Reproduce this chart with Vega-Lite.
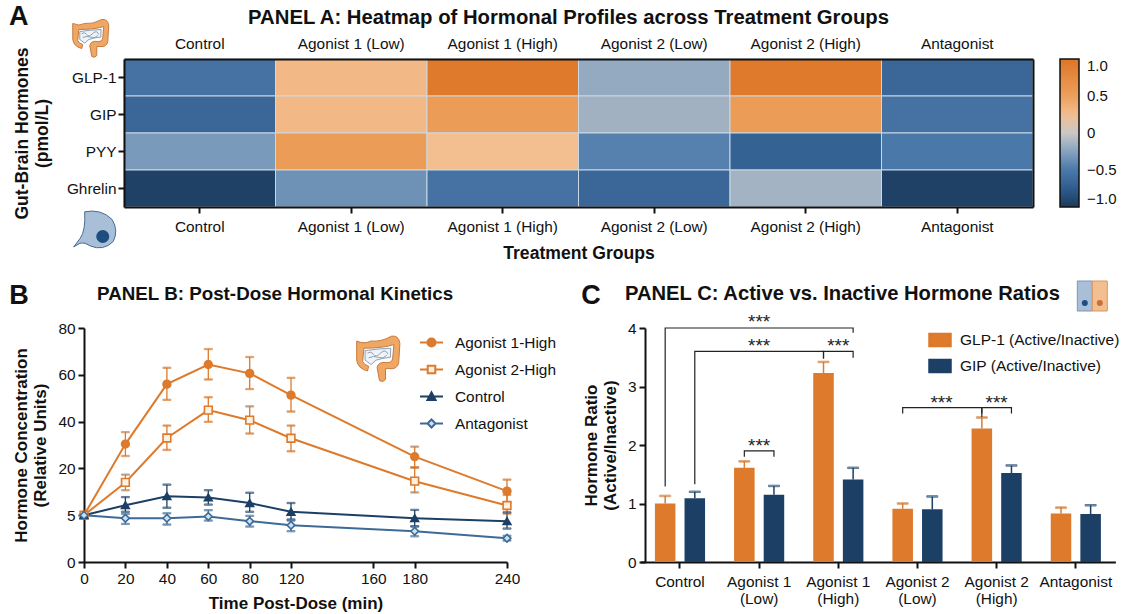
{
  "$schema": "https://vega.github.io/schema/vega-lite/v6.json",
  "background": "white",
  "padding": {"left": 9, "top": 2, "right": 0, "bottom": 0},
  "spacing": 17,
  "resolve": {"scale": {"color": "independent", "fill": "independent", "stroke": "independent", "shape": "independent"}, "legend": {"color": "independent", "fill": "independent", "stroke": "independent", "shape": "independent"}},
  "config": {
    "font": "Liberation Sans",
    "view": {"stroke": null},
    "axis": {"labelFont": "Liberation Sans", "labelFontSize": 15.4, "labelColor": "#111", "titleFont": "Liberation Sans", "titleFontSize": 17, "titleFontWeight": "bold", "titleColor": "#111", "grid": false, "domainColor": "#111", "domainWidth": 2, "tickColor": "#111", "tickWidth": 2, "tickSize": 6},
    "legend": {"labelFont": "Liberation Sans", "labelFontSize": 15.4, "labelColor": "#111", "symbolOpacity": 1},
    "title": {"font": "Liberation Sans", "fontWeight": "bold", "color": "#111"}
  },
  "datasets": {
    "heat": [
      {"group": "Control", "hormone": "GLP-1", "value": -0.55},
      {"group": "Agonist 1 (Low)", "hormone": "GLP-1", "value": 0.3},
      {"group": "Agonist 1 (High)", "hormone": "GLP-1", "value": 0.95},
      {"group": "Agonist 2 (Low)", "hormone": "GLP-1", "value": -0.2},
      {"group": "Agonist 2 (High)", "hormone": "GLP-1", "value": 0.95},
      {"group": "Antagonist", "hormone": "GLP-1", "value": -0.65},
      {"group": "Control", "hormone": "GIP", "value": -0.65},
      {"group": "Agonist 1 (Low)", "hormone": "GIP", "value": 0.3},
      {"group": "Agonist 1 (High)", "hormone": "GIP", "value": 0.55},
      {"group": "Agonist 2 (Low)", "hormone": "GIP", "value": -0.15},
      {"group": "Agonist 2 (High)", "hormone": "GIP", "value": 0.55},
      {"group": "Antagonist", "hormone": "GIP", "value": -0.55},
      {"group": "Control", "hormone": "PYY", "value": -0.3},
      {"group": "Agonist 1 (Low)", "hormone": "PYY", "value": 0.55},
      {"group": "Agonist 1 (High)", "hormone": "PYY", "value": 0.25},
      {"group": "Agonist 2 (Low)", "hormone": "PYY", "value": -0.45},
      {"group": "Agonist 2 (High)", "hormone": "PYY", "value": -0.7},
      {"group": "Antagonist", "hormone": "PYY", "value": -0.5},
      {"group": "Control", "hormone": "Ghrelin", "value": -0.95},
      {"group": "Agonist 1 (Low)", "hormone": "Ghrelin", "value": -0.35},
      {"group": "Agonist 1 (High)", "hormone": "Ghrelin", "value": -0.55},
      {"group": "Agonist 2 (Low)", "hormone": "Ghrelin", "value": -0.65},
      {"group": "Agonist 2 (High)", "hormone": "Ghrelin", "value": -0.14},
      {"group": "Antagonist", "hormone": "Ghrelin", "value": -0.95}
    ],
    "kinetics": [
      {"time": 0, "series": "Agonist 1-High", "value": 5, "low": 5, "high": 5},
      {"time": 20, "series": "Agonist 1-High", "value": 30.4, "low": 25.3, "high": 35.5},
      {"time": 40, "series": "Agonist 1-High", "value": 56, "low": 49.3, "high": 63},
      {"time": 60, "series": "Agonist 1-High", "value": 64.4, "low": 58, "high": 71},
      {"time": 80, "series": "Agonist 1-High", "value": 60.6, "low": 53.9, "high": 67.6},
      {"time": 120, "series": "Agonist 1-High", "value": 51.3, "low": 44.3, "high": 58.7},
      {"time": 180, "series": "Agonist 1-High", "value": 25, "low": 20.4, "high": 29.3},
      {"time": 240, "series": "Agonist 1-High", "value": 12.7, "low": 9, "high": 16.4},
      {"time": 0, "series": "Agonist 2-High", "value": 5, "low": 5, "high": 5},
      {"time": 20, "series": "Agonist 2-High", "value": 15.5, "low": 13, "high": 18},
      {"time": 40, "series": "Agonist 2-High", "value": 33, "low": 27.9, "high": 38.3},
      {"time": 60, "series": "Agonist 2-High", "value": 44.9, "low": 39.9, "high": 50.4},
      {"time": 80, "series": "Agonist 2-High", "value": 40.6, "low": 34.9, "high": 46.5},
      {"time": 120, "series": "Agonist 2-High", "value": 32.9, "low": 27.3, "high": 38.3},
      {"time": 180, "series": "Agonist 2-High", "value": 15.9, "low": 12.3, "high": 20.4},
      {"time": 240, "series": "Agonist 2-High", "value": 8.1, "low": 5.5, "high": 11.5},
      {"time": 0, "series": "Control", "value": 5, "low": 5, "high": 5},
      {"time": 20, "series": "Control", "value": 8.2, "low": 6.1, "high": 10.8},
      {"time": 40, "series": "Control", "value": 11.1, "low": 7.4, "high": 14.8},
      {"time": 60, "series": "Control", "value": 10.7, "low": 8.4, "high": 13},
      {"time": 80, "series": "Control", "value": 8.9, "low": 6.1, "high": 12.2},
      {"time": 120, "series": "Control", "value": 6.1, "low": 4.54, "high": 8.9},
      {"time": 180, "series": "Control", "value": 4.68, "low": 3.82, "high": 6.7},
      {"time": 240, "series": "Control", "value": 4.36, "low": 3.57, "high": 5.9},
      {"time": 0, "series": "Antagonist", "value": 5, "low": 5, "high": 5},
      {"time": 20, "series": "Antagonist", "value": 4.68, "low": 4.07, "high": 5.4},
      {"time": 40, "series": "Antagonist", "value": 4.68, "low": 4, "high": 5.6},
      {"time": 60, "series": "Antagonist", "value": 4.86, "low": 4.43, "high": 6.6},
      {"time": 80, "series": "Antagonist", "value": 4.36, "low": 3.79, "high": 4.93},
      {"time": 120, "series": "Antagonist", "value": 3.93, "low": 3.29, "high": 4.43},
      {"time": 180, "series": "Antagonist", "value": 3.29, "low": 2.75, "high": 3.79},
      {"time": 240, "series": "Antagonist", "value": 2.54, "low": 2.3, "high": 2.8}
    ],
    "ratios": [
      {"group": "Control", "series": "GLP-1 (Active/Inactive)", "value": 1.0, "high": 1.13},
      {"group": "Agonist 1 (Low)", "series": "GLP-1 (Active/Inactive)", "value": 1.61, "high": 1.72},
      {"group": "Agonist 1 (High)", "series": "GLP-1 (Active/Inactive)", "value": 3.23, "high": 3.42},
      {"group": "Agonist 2 (Low)", "series": "GLP-1 (Active/Inactive)", "value": 0.91, "high": 1.0},
      {"group": "Agonist 2 (High)", "series": "GLP-1 (Active/Inactive)", "value": 2.28, "high": 2.47},
      {"group": "Antagonist", "series": "GLP-1 (Active/Inactive)", "value": 0.83, "high": 0.93},
      {"group": "Control", "series": "GIP (Active/Inactive)", "value": 1.09, "high": 1.2},
      {"group": "Agonist 1 (Low)", "series": "GIP (Active/Inactive)", "value": 1.15, "high": 1.3},
      {"group": "Agonist 1 (High)", "series": "GIP (Active/Inactive)", "value": 1.41, "high": 1.61},
      {"group": "Agonist 2 (Low)", "series": "GIP (Active/Inactive)", "value": 0.9, "high": 1.12},
      {"group": "Agonist 2 (High)", "series": "GIP (Active/Inactive)", "value": 1.52, "high": 1.65},
      {"group": "Antagonist", "series": "GIP (Active/Inactive)", "value": 0.82, "high": 0.97}
    ],
    "brackets": [
      {"id": "a", "side": "mid", "step": 1, "group": "Control", "series": "GLP-1 (Active/Inactive)", "value": 1.29},
      {"id": "a", "side": "mid", "step": 2, "group": "Control", "series": "GLP-1 (Active/Inactive)", "value": 4.0},
      {"id": "a", "side": "mid", "step": 3, "group": "Agonist 1 (High)", "series": "GIP (Active/Inactive)", "value": 4.0},
      {"id": "a", "side": "mid", "step": 4, "group": "Agonist 1 (High)", "series": "GIP (Active/Inactive)", "value": 3.92},
      {"id": "b", "side": "left", "step": 1, "group": "Control", "series": "GIP (Active/Inactive)", "value": 1.33},
      {"id": "b", "side": "left", "step": 2, "group": "Control", "series": "GIP (Active/Inactive)", "value": 3.6},
      {"id": "b", "side": "left", "step": 3, "group": "Agonist 1 (High)", "series": "GLP-1 (Active/Inactive)", "value": 3.6},
      {"id": "b", "side": "left", "step": 4, "group": "Agonist 1 (High)", "series": "GLP-1 (Active/Inactive)", "value": 3.48},
      {"id": "c", "side": "right", "step": 1, "group": "Agonist 1 (High)", "series": "GLP-1 (Active/Inactive)", "value": 3.48},
      {"id": "c", "side": "right", "step": 2, "group": "Agonist 1 (High)", "series": "GLP-1 (Active/Inactive)", "value": 3.6},
      {"id": "c", "side": "right", "step": 3, "group": "Agonist 1 (High)", "series": "GIP (Active/Inactive)", "value": 3.6},
      {"id": "c", "side": "right", "step": 4, "group": "Agonist 1 (High)", "series": "GIP (Active/Inactive)", "value": 3.49},
      {"id": "d", "side": "mid", "step": 1, "group": "Agonist 1 (Low)", "series": "GLP-1 (Active/Inactive)", "value": 1.8},
      {"id": "d", "side": "mid", "step": 2, "group": "Agonist 1 (Low)", "series": "GLP-1 (Active/Inactive)", "value": 1.9},
      {"id": "d", "side": "mid", "step": 3, "group": "Agonist 1 (Low)", "series": "GIP (Active/Inactive)", "value": 1.9},
      {"id": "d", "side": "mid", "step": 4, "group": "Agonist 1 (Low)", "series": "GIP (Active/Inactive)", "value": 1.8},
      {"id": "e", "side": "left", "step": 1, "group": "Agonist 2 (Low)", "series": "GLP-1 (Active/Inactive)", "value": 2.54},
      {"id": "e", "side": "left", "step": 2, "group": "Agonist 2 (Low)", "series": "GLP-1 (Active/Inactive)", "value": 2.64},
      {"id": "e", "side": "left", "step": 3, "group": "Agonist 2 (High)", "series": "GLP-1 (Active/Inactive)", "value": 2.64},
      {"id": "e", "side": "left", "step": 4, "group": "Agonist 2 (High)", "series": "GLP-1 (Active/Inactive)", "value": 2.48},
      {"id": "f", "side": "right", "step": 1, "group": "Agonist 2 (High)", "series": "GLP-1 (Active/Inactive)", "value": 2.54},
      {"id": "f", "side": "right", "step": 2, "group": "Agonist 2 (High)", "series": "GLP-1 (Active/Inactive)", "value": 2.64},
      {"id": "f", "side": "right", "step": 3, "group": "Agonist 2 (High)", "series": "GIP (Active/Inactive)", "value": 2.64},
      {"id": "f", "side": "right", "step": 4, "group": "Agonist 2 (High)", "series": "GIP (Active/Inactive)", "value": 2.54}
    ],
    "stars": [
      {"group": "Agonist 1 (Low)", "value": 4.13, "label": "***", "nudge": "no"},
      {"group": "Agonist 1 (Low)", "value": 3.72, "label": "***", "nudge": "no"},
      {"group": "Agonist 1 (High)", "value": 3.72, "label": "***", "nudge": "no"},
      {"group": "Agonist 1 (Low)", "value": 2.02, "label": "***", "nudge": "no"},
      {"group": "Agonist 2 (Low)", "value": 2.76, "label": "***", "nudge": "yes"},
      {"group": "Agonist 2 (High)", "value": 2.76, "label": "***", "nudge": "no"}
    ],
    "one": [{"n": 1}],
    "corner": [{"time": 0, "value": 80}],
    "gutSpot": [{"time": 160, "value": 60}]
  },
  "vconcat": [
    {
      "bounds": "flush",
      "spacing": 0,
      "resolve": {"scale": {"color": "independent"}, "legend": {"color": "independent"}},
      "hconcat": [
        {"width": 40, "height": 148, "data": {"name": "one"}, "mark": {"type": "rect", "opacity": 0}},
        {
          "width": 909,
          "height": 148,
          "title": {"text": "PANEL A: Heatmap of Hormonal Profiles across Treatment Groups", "fontSize": 20.3, "anchor": "middle", "dx": -10, "offset": -26},
          "resolve": {"axis": {"x": "independent", "y": "independent"}},
          "layer": [
            {
              "data": {"name": "heat"},
              "mark": {"type": "rect", "stroke": "#C9D8E6", "strokeWidth": 1},
              "encoding": {
                "x": {"field": "group", "type": "nominal", "sort": null, "scale": {"padding": 0, "domain": ["Control", "Agonist 1 (Low)", "Agonist 1 (High)", "Agonist 2 (Low)", "Agonist 2 (High)", "Antagonist"]}, "axis": {"orient": "bottom", "title": "Treatment Groups", "titleFontSize": 17.6, "labelAngle": 0, "labelPadding": 6, "titlePadding": 10, "zindex": 1}},
                "y": {"field": "hormone", "type": "nominal", "sort": null, "scale": {"padding": 0, "domain": ["GLP-1", "GIP", "PYY", "Ghrelin"]}, "axis": {"orient": "left", "title": ["Gut-Brain Hormones", "(pmol/L)"], "titleFontSize": 17.5, "titlePadding": 15, "labelPadding": 2, "zindex": 1}},
                "color": {
                  "field": "value",
                  "type": "quantitative",
                  "scale": {"domain": [-1, -0.75, -0.5, -0.25, 0, 0.25, 0.5, 1], "range": ["#1B3A5C", "#2F5C8E", "#4A78A8", "#86A2C0", "#C9C8C6", "#F3BE90", "#EDA05C", "#DD7526"], "interpolate": "rgb"},
                  "legend": {"orient": "none", "legendX": 936, "legendY": 0, "title": null, "gradientLength": 148, "gradientThickness": 19, "direction": "vertical", "values": [-1, -0.5, 0, 0.5, 1], "labelExpr": "datum.value == 0 ? '0' : format(datum.value, '.1f')", "labelFontSize": 15, "labelOffset": 8, "gradientStrokeColor": "#111", "gradientStrokeWidth": 1.5}
                }
              }
            },
            {
              "data": {"name": "heat"},
              "mark": {"type": "rect", "opacity": 0},
              "encoding": {
                "x": {"field": "group", "type": "nominal", "sort": null, "axis": {"orient": "top", "title": null, "labelAngle": 0, "ticks": false, "labelPadding": 8, "zindex": 1}},
                "y": {"field": "hormone", "type": "nominal", "sort": null, "axis": {"orient": "right", "title": null, "labels": false, "ticks": false, "zindex": 1}}
              }
            },
            {
              "data": {"name": "one"},
              "mark": {"type": "text", "text": "A", "fontSize": 27, "fontWeight": "bold", "color": "#111", "xOffset": -181, "yOffset": -61},
              "encoding": {"x": {"datum": "Control", "axis": null}, "y": {"datum": "GLP-1", "axis": null}}
            },
            {
              "data": {"name": "one"},
              "mark": {"type": "point", "filled": true, "size": 1600, "fill": "#EFA765", "stroke": "#C87A3C", "strokeWidth": 1, "opacity": 1, "xOffset": -109, "yOffset": -40, "shape": "M-0.9,-0.7Q-0.6,-0.55,-0.3,-0.7Q0.1,-0.65,0.55,-0.9Q0.85,-0.95,0.9,-0.6L0.85,0.2Q0.8,0.5,0.45,0.45L0.3,0.45L0.3,0.9Q0.2,1.05,0.05,0.95L-0.05,0.4Q0,0.15,0.35,0.2Q0.58,0.22,0.6,0L0.65,-0.55Q0.2,-0.4,-0.6,-0.4L-0.65,0.15Q-0.6,0.3,-0.4,0.35L-0.45,0.55Q-0.85,0.45,-0.9,0.1Z"},
              "encoding": {"x": {"datum": "Control", "axis": null}, "y": {"datum": "GLP-1", "axis": null}}
            },
            {
              "data": {"name": "one"},
              "mark": {"type": "point", "filled": true, "size": 1600, "fill": "#EEF3F7", "stroke": "#6E8CA8", "strokeWidth": 0.8, "opacity": 1, "xOffset": -109, "yOffset": -40, "shape": "M-0.55,-0.3Q0,-0.38,0.52,-0.4L0.5,-0.02Q0.2,0,-0.1,0.1L-0.3,0.28L-0.55,0.1ZM-0.45,-0.2Q-0.3,-0.3,-0.2,-0.15T0.1,-0.2T0.4,-0.15M-0.4,0Q-0.2,-0.1,0,-0.02T0.35,-0.1"},
              "encoding": {"x": {"datum": "Control", "axis": null}, "y": {"datum": "GLP-1", "axis": null}}
            },
            {
              "data": {"name": "one"},
              "mark": {"type": "point", "filled": true, "size": 1936, "fill": "#A9BFD8", "stroke": "#4A6C92", "strokeWidth": 1, "opacity": 1, "xOffset": -103, "yOffset": 42, "shape": "M-0.55,-0.85Q0.2,-1,0.7,-0.5Q1,0,0.75,0.5Q0.3,0.95,-0.3,0.7Q-0.6,0.5,-0.8,0.6L-1.05,0.75L-0.75,0.35Q-0.5,0,-0.55,-0.85Z"},
              "encoding": {"x": {"datum": "Control", "axis": null}, "y": {"datum": "Ghrelin", "axis": null}}
            },
            {
              "data": {"name": "one"},
              "mark": {"type": "point", "filled": true, "size": 170, "fill": "#1F4E7E", "opacity": 1, "shape": "circle", "xOffset": -97, "yOffset": 48},
              "encoding": {"x": {"datum": "Control", "axis": null}, "y": {"datum": "Ghrelin", "axis": null}}
            }
          ]
        }
      ]
    },
    {
      "bounds": "flush",
      "spacing": 138,
      "resolve": {"scale": {"color": "independent", "fill": "independent", "stroke": "independent", "shape": "independent"}, "legend": {"color": "independent", "fill": "independent", "stroke": "independent", "shape": "independent"}},
      "hconcat": [
        {
          "width": 423,
          "height": 234,
          "title": {"text": "PANEL B: Post-Dose Hormonal Kinetics", "fontSize": 18.8, "anchor": "start", "frame": "group", "dx": 13, "offset": -22},
          "encoding": {
            "x": {"field": "time", "type": "quantitative", "scale": {"domain": [0, 20, 40, 60, 80, 120, 160, 180, 240], "range": [0, 41.4, 82.9, 124.3, 165.7, 207, 289.3, 330.7, 423]}, "axis": {"values": [0, 20, 40, 60, 80, 120, 160, 180, 240], "title": "Time Post-Dose (min)", "titlePadding": 9, "labelPadding": 3, "labelFlush": false}}
          },
          "layer": [
            {
              "data": {"name": "kinetics"},
              "mark": {"type": "rule", "strokeWidth": 1.3},
              "encoding": {
                "y": {"field": "low", "type": "quantitative", "scale": {"domain": [0, 5, 20, 40, 60, 80], "range": [234, 187.2, 140.4, 93.6, 46.8, 0]}, "axis": {"values": [0, 5, 20, 40, 60, 80], "title": ["Hormone Concentration", "(Relative Units)"], "titlePadding": 8, "labelPadding": 3}},
                "y2": {"field": "high"},
                "stroke": {"field": "series", "type": "nominal"}
              }
            },
            {
              "data": {"name": "kinetics"},
              "mark": {"type": "tick", "orient": "horizontal", "size": 8, "thickness": 1.3},
              "encoding": {"y": {"field": "low", "type": "quantitative"}, "stroke": {"field": "series", "type": "nominal"}}
            },
            {
              "data": {"name": "kinetics"},
              "mark": {"type": "tick", "orient": "horizontal", "size": 8, "thickness": 1.3},
              "encoding": {"y": {"field": "high", "type": "quantitative"}, "stroke": {"field": "series", "type": "nominal"}}
            },
            {
              "data": {"name": "kinetics"},
              "mark": {"type": "line", "strokeWidth": 2},
              "encoding": {"y": {"field": "value", "type": "quantitative"}, "stroke": {"field": "series", "type": "nominal"}}
            },
            {
              "data": {"name": "kinetics"},
              "transform": [{"filter": "datum.series == 'Agonist 1-High'"}],
              "mark": {"type": "point", "shape": "circle", "size": 60, "fill": "#DD7A2B", "stroke": "#DD7A2B", "strokeWidth": 1.6, "opacity": 1},
              "encoding": {"y": {"field": "value", "type": "quantitative"}}
            },
            {
              "data": {"name": "kinetics"},
              "transform": [{"filter": "datum.series == 'Agonist 2-High'"}],
              "mark": {"type": "point", "shape": "square", "size": 60, "fill": "#FDF1E2", "stroke": "#DD7A2B", "strokeWidth": 1.6, "opacity": 1},
              "encoding": {"y": {"field": "value", "type": "quantitative"}}
            },
            {
              "data": {"name": "kinetics"},
              "transform": [{"filter": "datum.series == 'Control'"}],
              "mark": {"type": "point", "shape": "triangle-up", "size": 60, "fill": "#1C3F66", "stroke": "#1C3F66", "strokeWidth": 1.6, "opacity": 1},
              "encoding": {"y": {"field": "value", "type": "quantitative"}}
            },
            {
              "data": {"name": "kinetics"},
              "transform": [{"filter": "datum.series == 'Antagonist'"}],
              "mark": {"type": "point", "shape": "diamond", "size": 60, "fill": "#CFE0F0", "stroke": "#3D6A97", "strokeWidth": 1.6, "opacity": 1},
              "encoding": {"y": {"field": "value", "type": "quantitative"}}
            },
            {
              "data": {"name": "kinetics"},
              "transform": [{"filter": "false"}],
              "mark": {"type": "point", "strokeWidth": 2, "opacity": 1},
              "encoding": {
                "y": {"field": "value", "type": "quantitative"},
                "stroke": {"field": "series", "type": "nominal", "scale": {"domain": ["Agonist 1-High", "Agonist 2-High", "Control", "Antagonist"], "range": ["#DD7A2B", "#DD7A2B", "#1C3F66", "#3D6A97"]}, "legend": {"orient": "none", "legendX": 335, "legendY": 2, "title": null, "symbolSize": 528, "symbolStrokeWidth": 2, "symbolOpacity": 1, "labelOffset": 11, "rowPadding": 6, "padding": 0}},
                "shape": {"field": "series", "type": "nominal", "scale": {"domain": ["Agonist 1-High", "Agonist 2-High", "Control", "Antagonist"], "range": ["M-1,0H-.35A.35,.35 0 1 1 .35,0H1M.35,0A.35,.35 0 1 1 -.35,0", "M-1,0H-.33M.33,0H1M-.33,-.33H.33V.33H-.33Z", "M-1,0H1M-.35,.3L0,-.35L.35,.3Z", "M-1,0H-.35M.35,0H1M-.35,0L0,-.35L.35,0L0,.35Z"]}, "legend": {"title": null, "symbolOpacity": 1}},
                "fill": {"field": "series", "type": "nominal", "scale": {"domain": ["Agonist 1-High", "Agonist 2-High", "Control", "Antagonist"], "range": ["#DD7A2B", "#FDF1E2", "#1C3F66", "#CFE0F0"]}, "legend": {"title": null, "symbolOpacity": 1}}
              }
            },
            {
              "data": {"name": "gutSpot"},
              "mark": {"type": "point", "filled": true, "size": 2304, "fill": "#EFA765", "stroke": "#C87A3C", "strokeWidth": 1, "opacity": 1, "xOffset": 5, "yOffset": -17, "shape": "M-0.9,-0.7Q-0.6,-0.55,-0.3,-0.7Q0.1,-0.65,0.55,-0.9Q0.85,-0.95,0.9,-0.6L0.85,0.2Q0.8,0.5,0.45,0.45L0.3,0.45L0.3,0.9Q0.2,1.05,0.05,0.95L-0.05,0.4Q0,0.15,0.35,0.2Q0.58,0.22,0.6,0L0.65,-0.55Q0.2,-0.4,-0.6,-0.4L-0.65,0.15Q-0.6,0.3,-0.4,0.35L-0.45,0.55Q-0.85,0.45,-0.9,0.1Z"},
              "encoding": {"y": {"field": "value", "type": "quantitative"}}
            },
            {
              "data": {"name": "gutSpot"},
              "mark": {"type": "point", "filled": true, "size": 2304, "fill": "#EEF3F7", "stroke": "#6E8CA8", "strokeWidth": 0.8, "opacity": 1, "xOffset": 5, "yOffset": -17, "shape": "M-0.55,-0.3Q0,-0.38,0.52,-0.4L0.5,-0.02Q0.2,0,-0.1,0.1L-0.3,0.28L-0.55,0.1ZM-0.45,-0.2Q-0.3,-0.3,-0.2,-0.15T0.1,-0.2T0.4,-0.15M-0.4,0Q-0.2,-0.1,0,-0.02T0.35,-0.1"},
              "encoding": {"y": {"field": "value", "type": "quantitative"}}
            },
            {
              "data": {"name": "corner"},
              "mark": {"type": "text", "text": "B", "fontSize": 27, "fontWeight": "bold", "color": "#111", "xOffset": -65, "yOffset": -32},
              "encoding": {"y": {"field": "value", "type": "quantitative"}}
            }
          ]
        },
        {
          "width": 471,
          "height": 234,
          "title": {"text": "PANEL C: Active vs. Inactive Hormone Ratios", "fontSize": 20.2, "anchor": "start", "frame": "group", "dx": -20, "offset": -25},
          "encoding": {
            "x": {"field": "group", "type": "nominal", "sort": null, "scale": {"domain": ["Control", "Agonist 1 (Low)", "Agonist 1 (High)", "Agonist 2 (Low)", "Agonist 2 (High)", "Antagonist"], "padding": 0, "range": [-4.6, 470.4]}, "axis": {"title": null, "labelAngle": 0, "labelPadding": 6, "labelExpr": "indexof(datum.label, '(') > 0 ? [substring(datum.label, 0, 9), substring(datum.label, 10)] : datum.label"}}
          },
          "layer": [
            {
              "data": {"name": "ratios"},
              "mark": {"type": "bar"},
              "encoding": {
                "xOffset": {"field": "series", "type": "nominal", "sort": null, "scale": {"domain": ["GLP-1 (Active/Inactive)", "GIP (Active/Inactive)"], "paddingInner": 0.307, "paddingOuter": 0.49}},
                "y": {"field": "value", "type": "quantitative", "stack": null, "scale": {"domain": [0, 4]}, "axis": {"values": [0, 1, 2, 3, 4], "format": "d", "title": ["Hormone Ratio", "(Active/Inactive)"], "titleFontSize": 17, "titlePadding": 8, "labelPadding": 3}},
                "fill": {"field": "series", "type": "nominal", "scale": {"domain": ["GLP-1 (Active/Inactive)", "GIP (Active/Inactive)"], "range": ["#DD7A2B", "#1C3F66"]}, "legend": {"orient": "none", "legendX": 283, "legendY": 0, "title": null, "labelFontSize": 15.5, "symbolSize": 484, "labelOffset": 8, "rowPadding": 4, "padding": 0, "symbolType": "M-1,-0.6H1V0.6H-1Z"}}
              }
            },
            {
              "data": {"name": "ratios"},
              "mark": {"type": "rule", "strokeWidth": 1.5},
              "encoding": {
                "xOffset": {"field": "series", "type": "nominal", "sort": null},
                "y": {"field": "value", "type": "quantitative"},
                "y2": {"field": "high"},
                "stroke": {"field": "series", "type": "nominal", "scale": {"domain": ["GLP-1 (Active/Inactive)", "GIP (Active/Inactive)"], "range": ["#DD7A2B", "#1C3F66"]}, "legend": null}
              }
            },
            {
              "data": {"name": "ratios"},
              "mark": {"type": "tick", "size": 11, "thickness": 1.5},
              "encoding": {
                "xOffset": {"field": "series", "type": "nominal", "sort": null},
                "y": {"field": "high", "type": "quantitative"},
                "stroke": {"field": "series", "type": "nominal", "scale": {"domain": ["GLP-1 (Active/Inactive)", "GIP (Active/Inactive)"], "range": ["#DD7A2B", "#1C3F66"]}, "legend": null}
              }
            },
            {
              "data": {"name": "brackets"},
              "transform": [{"filter": "datum.side == 'mid'"}],
              "mark": {"type": "line", "color": "#222", "strokeWidth": 1.2},
              "encoding": {
                "xOffset": {"field": "series", "type": "nominal", "sort": null},
                "y": {"field": "value", "type": "quantitative"},
                "detail": {"field": "id"},
                "order": {"field": "step"}
              }
            },
            {
              "data": {"name": "brackets"},
              "transform": [{"filter": "datum.side == 'left'"}],
              "mark": {"type": "line", "color": "#222", "strokeWidth": 1.2, "xOffset": -2},
              "encoding": {
                "xOffset": {"field": "series", "type": "nominal", "sort": null},
                "y": {"field": "value", "type": "quantitative"},
                "detail": {"field": "id"},
                "order": {"field": "step"}
              }
            },
            {
              "data": {"name": "brackets"},
              "transform": [{"filter": "datum.side == 'right'"}],
              "mark": {"type": "line", "color": "#222", "strokeWidth": 1.2, "xOffset": 2},
              "encoding": {
                "xOffset": {"field": "series", "type": "nominal", "sort": null},
                "y": {"field": "value", "type": "quantitative"},
                "detail": {"field": "id"},
                "order": {"field": "step"}
              }
            },
            {
              "data": {"name": "stars"},
              "transform": [{"filter": "datum.nudge == 'no'"}],
              "mark": {"type": "text", "fontSize": 19, "color": "#222", "dy": 2},
              "encoding": {"y": {"field": "value", "type": "quantitative"}, "text": {"field": "label"}}
            },
            {
              "data": {"name": "stars"},
              "transform": [{"filter": "datum.nudge == 'yes'"}],
              "mark": {"type": "text", "fontSize": 19, "color": "#222", "dy": 2, "dx": 24},
              "encoding": {"y": {"field": "value", "type": "quantitative"}, "text": {"field": "label"}}
            },
            {
              "data": {"name": "one"},
              "mark": {"type": "text", "text": "C", "fontSize": 27, "fontWeight": "bold", "color": "#111", "xOffset": -89, "yOffset": -32},
              "encoding": {"x": {"datum": "Control"}, "y": {"datum": 4}}
            },
            {
              "data": {"name": "one"},
              "mark": {"type": "point", "filled": true, "size": 900, "fill": "#A9BFD8", "stroke": "#7C97B5", "strokeWidth": 1, "opacity": 1, "xOffset": 9, "yOffset": -32, "shape": "M-0.5,-1H0.5V1H-0.5Z"},
              "encoding": {"x": {"datum": "Antagonist"}, "y": {"datum": 4}}
            },
            {
              "data": {"name": "one"},
              "mark": {"type": "point", "filled": true, "size": 900, "fill": "#F3BE90", "stroke": "#D9975F", "strokeWidth": 1, "opacity": 1, "xOffset": 24, "yOffset": -32, "shape": "M-0.5,-1H0.5V1H-0.5Z"},
              "encoding": {"x": {"datum": "Antagonist"}, "y": {"datum": 4}}
            },
            {
              "data": {"name": "one"},
              "mark": {"type": "point", "filled": true, "size": 36, "fill": "#1F4E7E", "opacity": 1, "shape": "circle", "xOffset": 9, "yOffset": -25},
              "encoding": {"x": {"datum": "Antagonist"}, "y": {"datum": 4}}
            },
            {
              "data": {"name": "one"},
              "mark": {"type": "point", "filled": true, "size": 36, "fill": "#C9703A", "opacity": 1, "shape": "circle", "xOffset": 24, "yOffset": -25},
              "encoding": {"x": {"datum": "Antagonist"}, "y": {"datum": 4}}
            }
          ]
        }
      ]
    }
  ]
}
